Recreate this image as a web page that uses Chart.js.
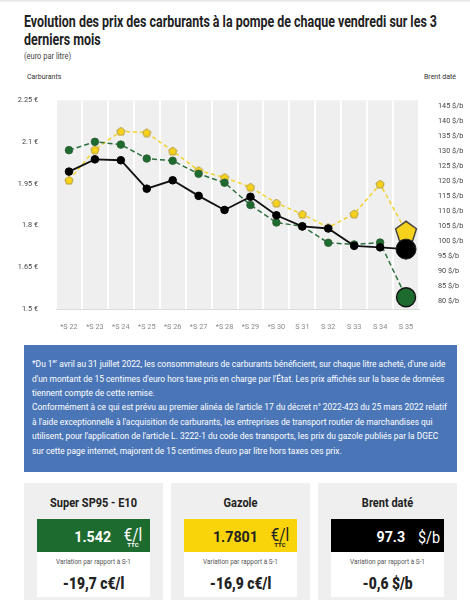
<!DOCTYPE html>
<html lang="fr">
<head>
<meta charset="utf-8">
<script src="https://cdn.jsdelivr.net/npm/chart.js@4.4.1/dist/chart.umd.min.js"></script>
<style>
    html, body { margin: 0; padding: 0; background: #fff; }
    body { width: 470px; height: 600px; position: relative; overflow: hidden; font-family: Roboto, sans-serif; color: #222; }
    .topbar { position: absolute; left: 0; top: 0; width: 470px; height: 3px; background: linear-gradient(#e2e2e2, #fff); }
    .title { position: absolute; left: 24px; top: 13px; font-size: 15.8px; font-weight: bold; line-height: 18px; color: #222; white-space: nowrap; transform-origin: left top; }
    .subtitle { position: absolute; left: 24px; top: 51px; font-size: 8.5px; color: #444; transform: scaleX(0.88); transform-origin: left top; }
    .axis-name { position: absolute; top: 73px; font-size: 7px; color: #333; }
    #chartWrap { position: absolute; left: 0; top: 85px; width: 470px; height: 250px; }
    .note { position: absolute; left: 24px; top: 345px; width: 433px; height: 127px; background: #4a76b8; }
    .note-text { position: absolute; left: 8px; top: 9px; color: #fff; font-size: 9.6px; line-height: 14.4px; white-space: nowrap; transform-origin: left top; }
    .card { position: absolute; top: 483px; width: 139px; height: 130px; background: #efefef; }
    .card h3 { margin: 0; position: absolute; top: 12px; left: 0; width: 100%; text-align: center; font-size: 12.5px; font-weight: bold; color: #222; transform: scaleX(0.88); }
    .price { position: absolute; left: 13px; top: 36px; width: 113px; height: 34px; line-height: 1; }
    .price .val { position: absolute; right: 39px; top: 11px; font-size: 15.5px; font-weight: bold; transform: scaleX(0.92); transform-origin: right center; }
    .price .unit { position: absolute; right: 5px; top: 6px; width: 24px; text-align: center; }
    .price .unit b { display: block; font-weight: normal; font-size: 19px; line-height: 1; transform: scaleX(0.8); }
    .price .unit i { display: block; font-style: normal; font-size: 6px; font-weight: bold; line-height: 1; margin-top: -2px; }
    .price .dollar { position: absolute; right: 4px; top: 10px; font-size: 17px; transform: scaleX(0.85); transform-origin: right center; }
    .var { position: absolute; left: 13px; top: 69px; width: 113px; height: 45px; background: #fff; text-align: center; line-height: 1; }
    .var small { position: absolute; left: 0; top: 7px; width: 100%; font-size: 7px; color: #555; transform: scaleX(0.92); }
    .var strong { position: absolute; left: 0; top: 24px; width: 100%; font-size: 16.5px; font-weight: 900; transform: scaleX(0.84); }
</style>
</head>
<body>
<div class="topbar"></div>
<div class="title" id="title">Evolution des prix des carburants à la pompe de chaque vendredi sur les 3<br>derniers mois</div>
<div class="subtitle">(euro par litre)</div>
<div class="axis-name" style="left:27px">Carburants</div>
<div class="axis-name" style="right:14px">Brent daté</div>
<div id="chartWrap"><canvas id="prixChart" width="470" height="250"></canvas></div>

<div class="note">
    <div class="note-text" id="noteText">*Du 1<sup style="font-size:6px">er</sup> avril au 31 juillet 2022, les consommateurs de carburants bénéficient, sur chaque litre acheté, d'une aide<br>d'un montant de 15 centimes d'euro hors taxe pris en charge par l'État. Les prix affichés sur la base de données<br>tiennent compte de cette remise.<br>Conformément à ce qui est prévu au premier alinéa de l'article 17 du décret n° 2022-423 du 25 mars 2022 relatif<br>à l'aide exceptionnelle à l'acquisition de carburants, les entreprises de transport routier de marchandises qui<br>utilisent, pour l'application de l'article L. 3222-1 du code des transports, les prix du gazole publiés par la DGEC<br>sur cette page internet, majorent de 15 centimes d'euro par litre hors taxes ces prix.</div>
</div>

<div class="card" style="left:24px">
    <h3>Super SP95 - E10</h3>
    <div class="price" style="background:#1e6b30;color:#fff"><span class="val">1.542</span><span class="unit"><b>€/l</b><i>TTC</i></span></div>
    <div class="var"><small>Variation par rapport à S-1</small><strong>-19,7 c€/l</strong></div>
</div>
<div class="card" style="left:171px">
    <h3>Gazole</h3>
    <div class="price" style="background:#f9d40a;color:#222"><span class="val">1.7801</span><span class="unit"><b>€/l</b><i>TTC</i></span></div>
    <div class="var"><small>Variation par rapport à S-1</small><strong>-16,9 c€/l</strong></div>
</div>
<div class="card" style="left:318px">
    <h3>Brent daté</h3>
    <div class="price" style="background:#000;color:#fff"><span class="val">97.3</span><span class="dollar">$/b</span></div>
    <div class="var"><small>Variation par rapport à S-1</small><strong>-0,6 $/b</strong></div>
</div>

<script>
const weeks = ['*S 22', '*S 23', '*S 24', '*S 25', '*S 26', '*S 27', '*S 28', '*S 29', '*S 30', 'S 31', 'S 32', 'S 33', 'S 34', 'S 35'];
const sp95E10 = [2.071, 2.101, 2.091, 2.041, 2.033, 1.986, 1.954, 1.874, 1.811, 1.797, 1.738, 1.732, 1.739, 1.542];
const gazole = [1.963, 2.073, 2.139, 2.134, 2.068, 1.998, 1.973, 1.938, 1.881, 1.841, 1.793, 1.842, 1.949, 1.7801];
const brent = [123.2, 127.3, 127.0, 117.5, 120.3, 115.1, 110.4, 114.8, 108.6, 104.9, 104.2, 98.4, 97.9, 97.3];
const euroTicks = [1.5, 1.65, 1.8, 1.95, 2.1, 2.25];
const brentTicks = [80, 85, 90, 95, 100, 105, 110, 115, 120, 125, 130, 135, 140, 145];

(() => {
    // the original uses a condensed face we don't have, so squeeze text blocks to the widths they had
    const squeeze = (el, targetWidth) => {
        const w = el.getBoundingClientRect().width;
        if (w > 0) {
            el.style.transform = `scaleX(${targetWidth / w})`;
        }
    };
    squeeze(document.getElementById('title'), 413);
    squeeze(document.getElementById('noteText'), 415);

    const last = weeks.length - 1;

    const pentagon = (size, radius, fill, stroke, lineWidth) => {
        const c = document.createElement('canvas');
        c.width = size;
        c.height = size;
        const ctx = c.getContext('2d');
        const cx = size / 2;
        const cy = size / 2 + radius * 0.1;
        ctx.beginPath();
        for (let i = 0; i < 5; i++) {
            const a = -Math.PI / 2 + (i * 2 * Math.PI) / 5;
            const px = cx + radius * Math.cos(a);
            const py = cy + radius * Math.sin(a);
            if (i === 0) {
                ctx.moveTo(px, py);
            } else {
                ctx.lineTo(px, py);
            }
        }
        ctx.closePath();
        ctx.fillStyle = fill;
        ctx.fill();
        ctx.lineWidth = lineWidth;
        ctx.strokeStyle = stroke;
        ctx.stroke();
        return c;
    };

    const smallPent = pentagon(10, 4.3, '#f7d21c', '#b59c3a', 1);
    const bigPent = pentagon(26, 11, '#f7d21c', '#333', 1.3);

    const plotBackground = {
        id: 'plotBackground',
        beforeDraw(chart) {
            const { ctx, chartArea } = chart;
            ctx.save();
            ctx.fillStyle = '#efefef';
            ctx.fillRect(chartArea.left, chartArea.top, chartArea.right - chartArea.left, chartArea.bottom - chartArea.top);
            ctx.restore();
        },
    };

    const bigLast = (small, big) => weeks.map((_, i) => (i === last ? big : small));

    new Chart(document.getElementById('prixChart'), {
        type: 'line',
        data: {
            labels: weeks,
            datasets: [
                {
                    label: 'Brent daté',
                    data: brent,
                    yAxisID: 'yBrent',
                    borderColor: '#111',
                    borderWidth: 1.8,
                    backgroundColor: '#000',
                    pointBorderColor: bigLast('#000', '#222'),
                    pointRadius: bigLast(3.8, 10),
                    pointBorderWidth: 1,
                    tension: 0,
                    clip: false,
                    order: 1,
                },
                {
                    label: 'Super SP95 - E10',
                    data: sp95E10,
                    yAxisID: 'y',
                    borderColor: '#2b6f3d',
                    borderWidth: 1.5,
                    borderDash: [5, 3],
                    backgroundColor: '#1e6b30',
                    pointBorderColor: bigLast('#2f5a35', '#111'),
                    pointRadius: bigLast(3.8, 9.5),
                    pointBorderWidth: bigLast(0.8, 1.4),
                    tension: 0,
                    clip: false,
                    order: 2,
                },
                {
                    label: 'Gazole',
                    data: gazole,
                    yAxisID: 'y',
                    borderColor: '#f2d22a',
                    borderWidth: 1.5,
                    borderDash: [4, 3],
                    backgroundColor: '#f7d21c',
                    pointStyle: bigLast(smallPent, bigPent),
                    pointRadius: bigLast(4, 11),
                    tension: 0,
                    clip: false,
                    order: 3,
                },
            ],
        },
        options: {
            responsive: false,
            animation: false,
            devicePixelRatio: 1,
            layout: {
                padding: { top: 12, left: 0, right: 0, bottom: 0 },
            },
            plugins: {
                legend: { display: false },
                tooltip: { enabled: false },
            },
            scales: {
                x: {
                    offset: true,
                    grid: {
                        offset: true,
                        color: '#ffffff',
                        lineWidth: 2,
                        drawTicks: false,
                    },
                    border: { color: '#dcdcdc' },
                    ticks: {
                        color: '#8a8a8a',
                        font: { family: 'Roboto, sans-serif', size: 7.3 },
                        padding: 14,
                        maxRotation: 0,
                        minRotation: 0,
                        autoSkip: false,
                    },
                    afterFit: (axis) => {
                        axis.height = 26;
                    },
                },
                y: {
                    position: 'left',
                    min: 1.5,
                    max: 2.25,
                    grid: { display: false },
                    border: { display: false },
                    afterBuildTicks: (axis) => {
                        axis.ticks = euroTicks.map((value) => ({ value }));
                    },
                    ticks: {
                        color: '#444',
                        font: { family: 'Roboto, sans-serif', size: 7.3 },
                        padding: 10,
                        callback: (value) => `${value} €`,
                    },
                    afterFit: (axis) => {
                        axis.width = 56;
                    },
                },
                yBrent: {
                    position: 'right',
                    min: 77.3,
                    max: 147,
                    grid: { display: false },
                    border: { display: false },
                    afterBuildTicks: (axis) => {
                        axis.ticks = brentTicks.map((value) => ({ value }));
                    },
                    ticks: {
                        color: '#444',
                        font: { family: 'Roboto, sans-serif', size: 7.3 },
                        padding: 11,
                        callback: (value) => `${value} $/b`,
                    },
                    afterFit: (axis) => {
                        axis.width = 51;
                    },
                },
            },
        },
        plugins: [plotBackground],
    });
})();
</script>
</body>
</html>
